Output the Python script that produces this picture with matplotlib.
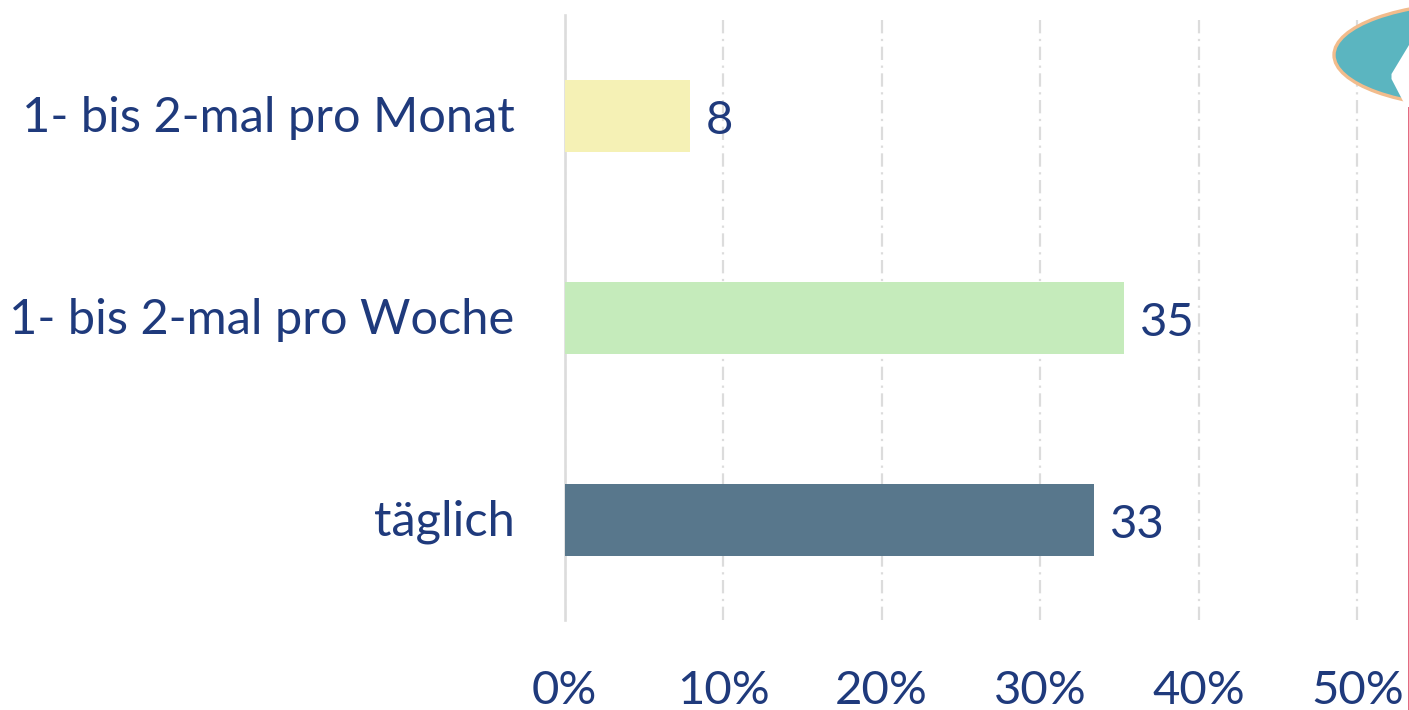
import matplotlib
matplotlib.use("Agg")
import matplotlib.pyplot as plt
from matplotlib.lines import Line2D
from matplotlib.patches import Ellipse, Polygon
from matplotlib.transforms import ScaledTranslation

W, H = 1409, 710
TEXT = "#1f3a7c"
GRID = "#dcdcdc"

categories = ["1- bis 2-mal pro Monat", "1- bis 2-mal pro Woche", "täglich"]
values = [7.9, 35.3, 33.4]
value_labels = ["8", "35", "33"]
bar_colors = ["#f5f1b5", "#c5ebbb", "#58778c"]
x_ticks = [0, 10, 20, 30, 40, 50]
x_tick_labels = ["0%", "10%", "20%", "30%", "40%", "50%"]

plt.rcParams["font.family"] = ["Lato", "DejaVu Sans"]

fig = plt.figure(figsize=(W / 100, H / 100), dpi=100, facecolor="white")
ax = fig.add_axes([564.5 / W, 1 - 620 / H, (W - 564.5) / W, 605 / H])

y = range(len(categories))
ax.barh(y, values, height=0.356, color=bar_colors, zorder=3)
ax.set_xlim(0, 53.25)
ax.set_ylim(2.495, -0.5)

ax.set_yticks(list(y), categories)
ax.set_xticks(x_ticks, x_tick_labels)
ax.tick_params(axis="y", length=0, pad=36, labelsize=35.1, labelcolor=TEXT)
ax.tick_params(axis="x", length=0, pad=36, labelsize=34, labelcolor=TEXT)

# category labels sit a little higher than the bar centres
lift = ScaledTranslation(0, 1.5 / 72, fig.dpi_scale_trans)
for t in ax.get_yticklabels():
    t.set_transform(t.get_transform() + lift)

ax.grid(axis="x", color=GRID, linewidth=1.6, linestyle=(0, (6, 2.5, 1, 2.5)), zorder=0)
for s in ["top", "right", "bottom"]:
    ax.spines[s].set_visible(False)
ax.spines["left"].set_color(GRID)
ax.spines["left"].set_linewidth(1.9)
ax.spines["left"].set_zorder(2)

for i, (v, lab) in enumerate(zip(values, value_labels)):
    ax.annotate(lab, xy=(v, i), xytext=(11.5, -3.5), textcoords="offset points",
                va="center", ha="left", fontsize=34, color=TEXT, zorder=5)


# speech bubble and red rule at the right edge, cut off by the picture
def px(xp, yp):
    return xp / W, 1 - yp / H


bubble = Ellipse((1480 / W, 1 - 55 / H), 292 / W, 105 / H, transform=fig.transFigure,
                 facecolor="#5bb5c0", edgecolor="#f2bc8c", linewidth=2.4, zorder=6)
fig.add_artist(bubble)
notch = Polygon([px(1404, 103), px(1391.5, 79), px(1391.5, 74), px(1409, 45), px(1412, 45),
                 px(1412, 112), px(1404, 112)],
                closed=True, transform=fig.transFigure, facecolor="white", edgecolor="none", zorder=7)
fig.add_artist(notch)
fig.add_artist(Line2D([1408.5 / W, 1408.5 / W], [1 - 108 / H, 0], transform=fig.transFigure,
                      color="#e2687f", linewidth=1.4, zorder=8))

fig.savefig("out.png", dpi=100, facecolor="white")
